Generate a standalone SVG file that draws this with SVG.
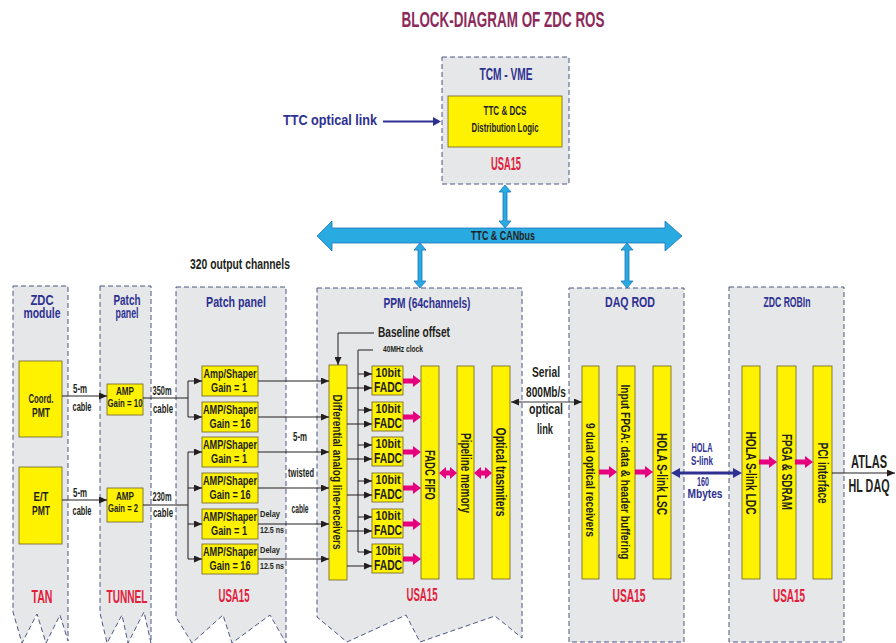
<svg xmlns="http://www.w3.org/2000/svg" xmlns:xlink="http://www.w3.org/1999/xlink" width="896" height="643" viewBox="0 0 896 643">
<defs>
<style>
.col{fill:#e6e7e8;stroke:#4d5785;stroke-width:1;stroke-dasharray:5 3}
.yb{fill:#fff200;stroke:#6b5f2a;stroke-width:0.8}
text{font-family:"Liberation Sans",Arial,sans-serif;font-weight:bold;text-anchor:middle;fill:#231f20}
.nv{fill:#2e3192}
.rd{fill:#e2203c}
.ln{stroke:#231f20;stroke-width:1;fill:none}
.ar{stroke:#231f20;stroke-width:1;fill:none;marker-end:url(#ah)}
.mg{fill:#e6007e}
.bl{fill:#29aae1;stroke:#1c75bc;stroke-width:0.8}
</style>
<marker id="ah" markerUnits="userSpaceOnUse" markerWidth="8" markerHeight="7" refX="8" refY="3.5" orient="auto-start-reverse"><path d="M0,0 L8,3.5 L0,7 Z" fill="#231f20"/></marker>
<path id="mag" d="M0,-2.5 H10 V-6 L18,0 L10,6 V2.5 H0 Z"/>
<path id="mag2" d="M0,0 L7,-6 V-2.5 H11 V-6 L18,0 L11,6 V2.5 H7 V6 Z"/>
</defs>
<rect width="896" height="643" fill="#ffffff"/>
<text x="503" y="27" font-size="22" textLength="203" lengthAdjust="spacingAndGlyphs" style="fill:#8b2a5b">BLOCK-DIAGRAM OF ZDC ROS</text>
<text x="240" y="269" font-size="15" textLength="100" lengthAdjust="spacingAndGlyphs">320 output channels</text>
<text class="nv" x="330" y="125" font-size="15" textLength="94" lengthAdjust="spacingAndGlyphs">TTC optical link</text>

<g id="tcm">
<rect class="col" x="442" y="57" width="127" height="127"/>
<text class="nv" x="506" y="80" font-size="16" textLength="53" lengthAdjust="spacingAndGlyphs">TCM - VME</text>
<rect class="yb" x="448" y="96" width="114" height="51"/>
<text x="505" y="115" font-size="13" textLength="43" lengthAdjust="spacingAndGlyphs">TTC &amp; DCS</text>
<text x="505" y="132" font-size="13" textLength="67" lengthAdjust="spacingAndGlyphs">Distribution Logic</text>
<text class="rd" x="506" y="170" font-size="19" textLength="30" lengthAdjust="spacingAndGlyphs">USA15</text>
</g>

<g id="bus">
<polygon class="bl" points="317,236 332,221 332,228 665,228 665,221 682,236 665,251 665,243 332,243 332,251"/>
<text x="503" y="240" font-size="13" textLength="64" lengthAdjust="spacingAndGlyphs">TTC &amp; CANbus</text>
</g>

<g id="zdc-module">
<polygon class="col" points="13,286 68,286 68,641 60,615 46,643 37,614 22,643 13,612"/>
<text class="nv" x="42" y="305" font-size="15" textLength="23" lengthAdjust="spacingAndGlyphs">ZDC</text>
<text class="nv" x="42" y="318" font-size="15" textLength="37" lengthAdjust="spacingAndGlyphs">module</text>
<rect class="yb" x="19" y="361" width="43" height="76"/>
<text x="41" y="403" font-size="13" textLength="25" lengthAdjust="spacingAndGlyphs">Coord.</text>
<text x="41" y="417" font-size="13" textLength="18" lengthAdjust="spacingAndGlyphs">PMT</text>
<rect class="yb" x="19" y="467" width="43" height="77"/>
<text x="41" y="501" font-size="13" textLength="15" lengthAdjust="spacingAndGlyphs">E/T</text>
<text x="41" y="515" font-size="13" textLength="18" lengthAdjust="spacingAndGlyphs">PMT</text>
<text class="rd" x="42" y="603" font-size="18" textLength="21" lengthAdjust="spacingAndGlyphs">TAN</text>
</g>

<g id="tunnel-panel">
<polygon class="col" points="100,286 151,286 151,643 144,612 128,643 122,615 107,643 100,613"/>
<text class="nv" x="127" y="305" font-size="15" textLength="27" lengthAdjust="spacingAndGlyphs">Patch</text>
<text class="nv" x="127" y="318" font-size="15" textLength="23" lengthAdjust="spacingAndGlyphs">panel</text>
<rect class="yb" x="107" y="384" width="36" height="31"/>
<text x="125" y="395" font-size="10.5" textLength="18" lengthAdjust="spacingAndGlyphs">AMP</text>
<text x="125" y="407" font-size="10.5" textLength="35" lengthAdjust="spacingAndGlyphs">Gain = 10</text>
<rect class="yb" x="107" y="488" width="36" height="34"/>
<text x="125" y="500" font-size="10.5" textLength="18" lengthAdjust="spacingAndGlyphs">AMP</text>
<text x="123" y="512" font-size="10.5" textLength="30" lengthAdjust="spacingAndGlyphs">Gain = 2</text>
<text class="rd" x="127" y="603" font-size="18" textLength="41" lengthAdjust="spacingAndGlyphs">TUNNEL</text>
</g>

<g id="patch-panel">
<polygon class="col" points="176,287 286,287 286,643 270,615 232,643 223,615 192,643 176,617"/>
<text class="nv" x="236" y="307" font-size="15" textLength="60" lengthAdjust="spacingAndGlyphs">Patch panel</text>
<rect class="yb" x="202" y="366" width="56" height="30"/>
<text x="230" y="378" font-size="12" textLength="53" lengthAdjust="spacingAndGlyphs">Amp/Shaper</text>
<text x="229" y="392" font-size="12" textLength="36" lengthAdjust="spacingAndGlyphs">Gain = 1</text>
<rect class="yb" x="202" y="402" width="56" height="30"/>
<text x="230" y="414" font-size="12" textLength="54" lengthAdjust="spacingAndGlyphs">AMP/Shaper</text>
<text x="230" y="428" font-size="12" textLength="41" lengthAdjust="spacingAndGlyphs">Gain = 16</text>
<rect class="yb" x="202" y="437" width="56" height="30"/>
<text x="230" y="449" font-size="12" textLength="54" lengthAdjust="spacingAndGlyphs">AMP/Shaper</text>
<text x="229" y="463" font-size="12" textLength="36" lengthAdjust="spacingAndGlyphs">Gain = 1</text>
<rect class="yb" x="202" y="473" width="56" height="30"/>
<text x="230" y="485" font-size="12" textLength="54" lengthAdjust="spacingAndGlyphs">AMP/Shaper</text>
<text x="230" y="499" font-size="12" textLength="41" lengthAdjust="spacingAndGlyphs">Gain = 16</text>
<rect class="yb" x="202" y="509" width="56" height="30"/>
<text x="230" y="521" font-size="12" textLength="54" lengthAdjust="spacingAndGlyphs">AMP/Shaper</text>
<text x="229" y="535" font-size="12" textLength="36" lengthAdjust="spacingAndGlyphs">Gain = 1</text>
<rect class="yb" x="202" y="544" width="56" height="30"/>
<text x="230" y="556" font-size="12" textLength="54" lengthAdjust="spacingAndGlyphs">AMP/Shaper</text>
<text x="230" y="570" font-size="12" textLength="41" lengthAdjust="spacingAndGlyphs">Gain = 16</text>
<text class="rd" x="234" y="602" font-size="19" textLength="31" lengthAdjust="spacingAndGlyphs">USA15</text>
</g>

<g id="ppm">
<polygon class="col" points="317,288 522,288 522,638 495,616 420,642 406,615 347,642 317,617"/>
<text class="nv" x="427" y="308" font-size="15" textLength="87" lengthAdjust="spacingAndGlyphs">PPM (64channels)</text>
<text x="414" y="337" font-size="14" textLength="72" lengthAdjust="spacingAndGlyphs">Baseline offset</text>
<text x="403" y="352" font-size="8.5" textLength="40" lengthAdjust="spacingAndGlyphs">40MHz clock</text>
<rect class="yb" x="329" y="365" width="18" height="215"/>
<text transform="translate(338,472) rotate(90)" dy="0.35em" font-size="13" textLength="155" lengthAdjust="spacingAndGlyphs">Differential analog line-receivers</text>
<rect class="yb" x="372" y="366" width="31" height="29"/>
<text x="388" y="377" font-size="12" textLength="25" lengthAdjust="spacingAndGlyphs">10bit</text>
<text x="388" y="392" font-size="14" textLength="28" lengthAdjust="spacingAndGlyphs">FADC</text>
<rect class="yb" x="372" y="402" width="31" height="29"/>
<text x="388" y="413" font-size="12" textLength="25" lengthAdjust="spacingAndGlyphs">10bit</text>
<text x="388" y="428" font-size="14" textLength="28" lengthAdjust="spacingAndGlyphs">FADC</text>
<rect class="yb" x="372" y="437" width="31" height="29"/>
<text x="388" y="448" font-size="12" textLength="25" lengthAdjust="spacingAndGlyphs">10bit</text>
<text x="388" y="463" font-size="14" textLength="28" lengthAdjust="spacingAndGlyphs">FADC</text>
<rect class="yb" x="372" y="473" width="31" height="29"/>
<text x="388" y="484" font-size="12" textLength="25" lengthAdjust="spacingAndGlyphs">10bit</text>
<text x="388" y="499" font-size="14" textLength="28" lengthAdjust="spacingAndGlyphs">FADC</text>
<rect class="yb" x="372" y="509" width="31" height="29"/>
<text x="388" y="520" font-size="12" textLength="25" lengthAdjust="spacingAndGlyphs">10bit</text>
<text x="388" y="535" font-size="14" textLength="28" lengthAdjust="spacingAndGlyphs">FADC</text>
<rect class="yb" x="372" y="544" width="31" height="29"/>
<text x="388" y="555" font-size="12" textLength="25" lengthAdjust="spacingAndGlyphs">10bit</text>
<text x="388" y="570" font-size="14" textLength="28" lengthAdjust="spacingAndGlyphs">FADC</text>
<rect class="yb" x="421" y="366" width="18" height="213"/>
<text transform="translate(430,475) rotate(90)" dy="0.35em" font-size="15" textLength="50" lengthAdjust="spacingAndGlyphs">FADC FIFO</text>
<rect class="yb" x="457" y="366" width="17" height="213"/>
<text transform="translate(465.5,473) rotate(90)" dy="0.35em" font-size="14" textLength="80" lengthAdjust="spacingAndGlyphs">Pipeline memory</text>
<rect class="yb" x="492" y="366" width="18" height="213"/>
<text transform="translate(501,472) rotate(90)" dy="0.35em" font-size="14" textLength="89" lengthAdjust="spacingAndGlyphs">Optical trasmiters</text>
<text class="rd" x="422" y="601" font-size="19" textLength="31" lengthAdjust="spacingAndGlyphs">USA15</text>
</g>

<g id="daq-rod">
<rect class="col" x="569" y="288" width="115" height="354"/>
<text class="nv" x="630" y="307" font-size="15" textLength="50" lengthAdjust="spacingAndGlyphs">DAQ ROD</text>
<rect class="yb" x="582" y="366" width="17" height="213"/>
<text transform="translate(590.5,480) rotate(90)" dy="0.35em" font-size="13" textLength="114" lengthAdjust="spacingAndGlyphs">9 dual optical receivers</text>
<rect class="yb" x="617" y="366" width="18" height="213"/>
<text transform="translate(626,472) rotate(90)" dy="0.35em" font-size="13" textLength="175" lengthAdjust="spacingAndGlyphs">Input FPGA: data &amp; header buffering</text>
<rect class="yb" x="653" y="366" width="18" height="213"/>
<text transform="translate(662,474) rotate(90)" dy="0.35em" font-size="14" textLength="82" lengthAdjust="spacingAndGlyphs">HOLA S-link LSC</text>
<text class="rd" x="629" y="602" font-size="19" textLength="33" lengthAdjust="spacingAndGlyphs">USA15</text>
</g>

<g id="zdc-robin">
<rect class="col" x="729" y="287" width="115" height="355"/>
<text class="nv" x="787" y="307" font-size="15" textLength="47" lengthAdjust="spacingAndGlyphs">ZDC ROBIn</text>
<rect class="yb" x="742" y="366" width="18" height="213"/>
<text transform="translate(751,473) rotate(90)" dy="0.35em" font-size="14" textLength="83" lengthAdjust="spacingAndGlyphs">HOLA S-link LDC</text>
<rect class="yb" x="777" y="366" width="19" height="213"/>
<text transform="translate(786.5,472) rotate(90)" dy="0.35em" font-size="14" textLength="76" lengthAdjust="spacingAndGlyphs">FPGA &amp; SDRAM</text>
<rect class="yb" x="813" y="366" width="19" height="213"/>
<text transform="translate(822.5,473) rotate(90)" dy="0.35em" font-size="14" textLength="61" lengthAdjust="spacingAndGlyphs">PCI interface</text>
<text class="rd" x="789" y="602" font-size="19" textLength="32" lengthAdjust="spacingAndGlyphs">USA15</text>
</g>

<g id="connectors">
<line x1="383" y1="121.5" x2="434" y2="121.5" stroke="#2e3192" stroke-width="2"/>
<polygon points="433,117 441,121.5 433,126" fill="#2e3192"/>
<polygon class="bl" points="505,185 511,192 507,192 507,221 511,221 505,228 499,221 503,221 503,192 499,192"/>
<polygon class="bl" points="420,243 426,250 422,250 422,281 426,281 420,288 414,281 418,281 418,250 414,250"/>
<polygon class="bl" points="627,243 633,250 629,250 629,281 633,281 627,288 621,281 625,281 625,250 621,250"/>
<line class="ar" x1="62" y1="396" x2="107" y2="396"/>
<line class="ar" x1="62" y1="500" x2="107" y2="500"/>
<text x="80" y="393" font-size="12" textLength="14" lengthAdjust="spacingAndGlyphs">5-m</text>
<text x="82" y="411" font-size="12" textLength="19" lengthAdjust="spacingAndGlyphs">cable</text>
<text x="80" y="497" font-size="12" textLength="14" lengthAdjust="spacingAndGlyphs">5-m</text>
<text x="82" y="515" font-size="12" textLength="19" lengthAdjust="spacingAndGlyphs">cable</text>
<path class="ln" d="M143,398 H188 M188,381 V417 M143,505 H188 M188,452 V559"/>
<text x="162" y="395" font-size="12" textLength="19" lengthAdjust="spacingAndGlyphs">350m</text>
<text x="163" y="413" font-size="12" textLength="20" lengthAdjust="spacingAndGlyphs">cable</text>
<text x="162" y="501" font-size="12" textLength="19" lengthAdjust="spacingAndGlyphs">230m</text>
<text x="163" y="517" font-size="12" textLength="20" lengthAdjust="spacingAndGlyphs">cable</text>
<line class="ar" x1="188" y1="381" x2="202" y2="381"/>
<line class="ar" x1="188" y1="417" x2="202" y2="417"/>
<line class="ar" x1="188" y1="452" x2="202" y2="452"/>
<line class="ar" x1="188" y1="488" x2="202" y2="488"/>
<line class="ar" x1="188" y1="524" x2="202" y2="524"/>
<line class="ar" x1="188" y1="559" x2="202" y2="559"/>
<line class="ar" x1="258" y1="381" x2="329" y2="381"/>
<line class="ar" x1="258" y1="417" x2="329" y2="417"/>
<line class="ar" x1="258" y1="452" x2="329" y2="452"/>
<line class="ar" x1="258" y1="488" x2="329" y2="488"/>
<line class="ar" x1="258" y1="524" x2="329" y2="524"/>
<line class="ar" x1="258" y1="559" x2="329" y2="559"/>
<text x="270" y="517" font-size="8.5" textLength="20" lengthAdjust="spacingAndGlyphs">Delay</text>
<text x="272" y="533" font-size="8.5" textLength="24" lengthAdjust="spacingAndGlyphs">12.5 ns</text>
<text x="270" y="553" font-size="8.5" textLength="20" lengthAdjust="spacingAndGlyphs">Delay</text>
<text x="272" y="569" font-size="8.5" textLength="24" lengthAdjust="spacingAndGlyphs">12.5 ns</text>
<text x="300" y="441" font-size="12" textLength="14" lengthAdjust="spacingAndGlyphs">5-m</text>
<text x="301" y="477" font-size="12" textLength="26" lengthAdjust="spacingAndGlyphs">twisted</text>
<text x="300" y="513" font-size="12" textLength="17" lengthAdjust="spacingAndGlyphs">cable</text>
<path class="ar" d="M374,333 H338 V365"/>
<path class="ln" d="M373,350 H358 V552"/>
<line class="ar" x1="358" y1="374" x2="372" y2="374"/>
<line class="ar" x1="358" y1="410" x2="372" y2="410"/>
<line class="ar" x1="358" y1="445" x2="372" y2="445"/>
<line class="ar" x1="358" y1="481" x2="372" y2="481"/>
<line class="ar" x1="358" y1="517" x2="372" y2="517"/>
<line class="ar" x1="358" y1="552" x2="372" y2="552"/>
<line class="ar" x1="347" y1="388" x2="372" y2="388"/>
<line class="ar" x1="347" y1="424" x2="372" y2="424"/>
<line class="ar" x1="347" y1="459" x2="372" y2="459"/>
<line class="ar" x1="347" y1="495" x2="372" y2="495"/>
<line class="ar" x1="347" y1="531" x2="372" y2="531"/>
<line class="ar" x1="347" y1="566" x2="372" y2="566"/>
<g class="mg">
<use xlink:href="#mag" x="403" y="381"/>
<use xlink:href="#mag" x="403" y="417"/>
<use xlink:href="#mag" x="403" y="452"/>
<use xlink:href="#mag" x="403" y="488"/>
<use xlink:href="#mag" x="403" y="524"/>
<use xlink:href="#mag" x="403" y="559"/>
<use xlink:href="#mag2" x="439" y="473"/>
<use xlink:href="#mag2" x="474" y="473"/>
<use xlink:href="#mag" x="599" y="472"/>
<use xlink:href="#mag" x="635" y="472"/>
<use xlink:href="#mag" x="759" y="462"/>
<use xlink:href="#mag" x="795" y="462"/>
</g>
<line x1="511" y1="402" x2="582" y2="402" stroke="#3a3a3a" stroke-width="1" marker-start="url(#ah)" marker-end="url(#ah)"/>
<text x="546" y="377" font-size="15" textLength="28" lengthAdjust="spacingAndGlyphs">Serial</text>
<text x="546" y="397" font-size="15" textLength="40" lengthAdjust="spacingAndGlyphs">800Mb/s</text>
<text x="546" y="414" font-size="15" textLength="34" lengthAdjust="spacingAndGlyphs">optical</text>
<text x="545" y="434" font-size="15" textLength="16" lengthAdjust="spacingAndGlyphs">link</text>
<polygon points="671,473 680,468 680,471.5 733,471.5 733,468 742,473 733,478 733,474.5 680,474.5 680,478" fill="#2e3192"/>
<text class="nv" x="702" y="452" font-size="12" textLength="21" lengthAdjust="spacingAndGlyphs">HOLA</text>
<text class="nv" x="702" y="465" font-size="12" textLength="22" lengthAdjust="spacingAndGlyphs">S-link</text>
<text class="nv" x="703" y="486" font-size="12" textLength="12" lengthAdjust="spacingAndGlyphs">160</text>
<text class="nv" x="705" y="498" font-size="12" textLength="35" lengthAdjust="spacingAndGlyphs">Mbytes</text>
<line class="ar" x1="832" y1="473" x2="895" y2="473"/>
<text x="869" y="468" font-size="18" textLength="36" lengthAdjust="spacingAndGlyphs">ATLAS</text>
<text x="869" y="492" font-size="18" textLength="41" lengthAdjust="spacingAndGlyphs">HL DAQ</text>
</g>
</svg>
